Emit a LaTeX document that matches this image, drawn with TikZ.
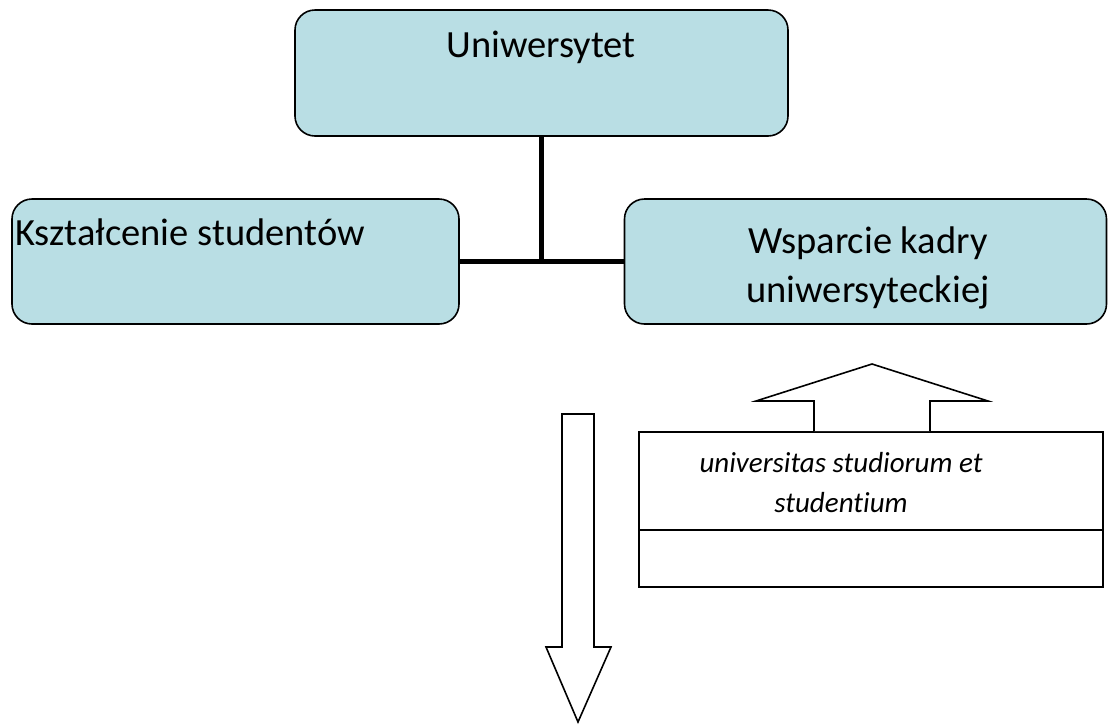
\documentclass[tikz,border=0pt]{standalone}
\usepackage{fontspec}
\setmainfont{Carlito}[Ligatures=NoCommon]
\definecolor{boxfill}{RGB}{185,222,228}
\begin{document}
\begin{tikzpicture}[x=1pt,y=-1pt,
  orgbox/.style={draw=black,line width=1.6pt,fill=boxfill,rounded corners=20pt,inner sep=0pt},
  conn/.style={line width=5.8pt},
  blockarrow/.style={draw=black,line width=1.6pt,fill=white,line join=miter},
  plainbox/.style={draw=black,line width=1.6pt,fill=white,inner sep=0pt},
  bigtext/.style={font=\fontsize{38.5}{47}\selectfont,inner sep=0pt},
  smalltext/.style={font=\fontsize{29}{40}\selectfont\itshape,inner sep=0pt,align=center}]
\useasboundingbox (0,0) rectangle (1108,724);
% boxes
\node[orgbox,minimum width=493pt,minimum height=126pt] (top) at (541.5,73) {};
\node[orgbox,minimum width=447pt,minimum height=125pt] (left) at (235.5,261.5) {};
\node[orgbox,minimum width=482pt,minimum height=125pt] (right) at (865.5,261.5) {};
% connectors
\draw[conn] (top.south) -- (top.south |- left.east);
\draw[conn] (left.east) -- (right.west);
% texts
\node[bigtext,anchor=base] (ttop) at (541,57) {Uniwersytet};
\node[bigtext,anchor=base west] (tleft) at (15,245) {Kształcenie studentów};
\node[bigtext,anchor=base] (tright1) at (868,253) {Wsparcie kadry};
\node[bigtext,anchor=base] (tright2) at (868,302) {uniwersyteckiej};
% text box with divider
\node[plainbox,minimum width=464pt,minimum height=155pt] (latin) at (871,509.5) {};
\coordinate (divL) at (639,530);
\coordinate (divR) at (1103,530);
\draw[line width=1.6pt] (divL) -- (divR);
\node[smalltext] (tlatin) at (841,483) {universitas studiorum et\\studentium};
% up arrow
\draw[blockarrow] (814,431) -- (814,401) -- (756,401) -- (872,364) -- (988,401) -- (930,401) -- (930,431);
% down arrow
\draw[blockarrow] (562,414) -- (594,414) -- (594,647) -- (611,647) -- (578,722) -- (546,647) -- (562,647) -- cycle;
\end{tikzpicture}
\end{document}
